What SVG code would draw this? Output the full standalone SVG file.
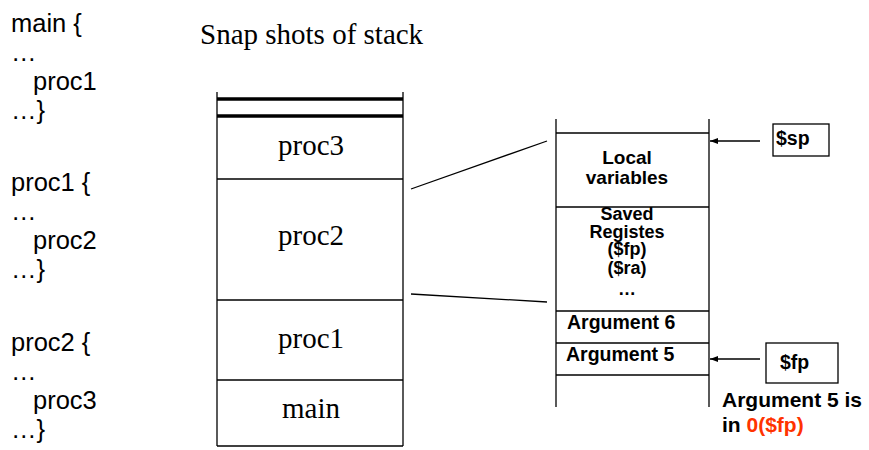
<svg xmlns="http://www.w3.org/2000/svg" width="869" height="450" viewBox="0 0 869 450">
<defs>
<style>
.code{font-family:"Liberation Sans",Arial,sans-serif;font-size:25.5px;fill:#000}
.serif{font-family:"Liberation Serif","Times New Roman",serif;font-size:29px;fill:#000}
.bold{font-family:"Liberation Sans",Arial,sans-serif;font-weight:bold;font-size:19.5px;fill:#000}
.tight{font-family:"Liberation Sans",Arial,sans-serif;font-weight:bold;font-size:18px;fill:#000}
.ln{stroke:#000;stroke-width:1.3;fill:none}
.thick{stroke:#000;stroke-width:3.5;fill:none}
</style>
<marker id="ah" markerWidth="8" markerHeight="6" refX="8" refY="3" orient="auto" markerUnits="userSpaceOnUse">
<path d="M0,0 L8,3 L0,6 z" fill="#000"/>
</marker>
</defs>
<rect width="869" height="450" fill="#fff"/>
<g id="code">
<text class="code" x="11" y="32">main {</text>
<text class="code" x="11" y="61">…</text>
<text class="code" x="33" y="90">proc1</text>
<text class="code" x="11" y="119">…}</text>
<text class="code" x="11" y="191">proc1 {</text>
<text class="code" x="11" y="220">…</text>
<text class="code" x="33" y="249">proc2</text>
<text class="code" x="11" y="278">…}</text>
<text class="code" x="11" y="351">proc2 {</text>
<text class="code" x="11" y="380">…</text>
<text class="code" x="33" y="409">proc3</text>
<text class="code" x="11" y="438">…}</text>
</g>
<g id="title">
<text class="serif" x="200" y="44">Snap shots of stack</text>
</g>
<g id="stack-left">
<line class="ln" x1="217" y1="92" x2="217" y2="446"/>
<line class="ln" x1="403" y1="92" x2="403" y2="446"/>
<line class="thick" x1="217" y1="99" x2="403" y2="99"/>
<line class="thick" x1="217" y1="116" x2="403" y2="116"/>
<line class="ln" x1="217" y1="179" x2="403" y2="179"/>
<line class="ln" x1="217" y1="300" x2="403" y2="300"/>
<line class="ln" x1="217" y1="380" x2="403" y2="380"/>
<line class="ln" x1="217" y1="446" x2="403" y2="446"/>
</g>
<g id="proc3"><text class="serif" x="311" y="155" text-anchor="middle">proc3</text></g>
<g id="proc2"><text class="serif" x="311" y="245" text-anchor="middle">proc2</text></g>
<g id="proc1"><text class="serif" x="311" y="348" text-anchor="middle">proc1</text></g>
<g id="main"><text class="serif" x="311" y="418" text-anchor="middle">main</text></g>
<g id="stack-right">
<line class="ln" x1="556" y1="119" x2="556" y2="407"/>
<line class="ln" x1="709" y1="119" x2="709" y2="407"/>
<line class="ln" x1="556" y1="133" x2="709" y2="133"/>
<line class="ln" x1="556" y1="207" x2="709" y2="207"/>
<line class="ln" x1="556" y1="311" x2="709" y2="311"/>
<line class="ln" x1="556" y1="343" x2="709" y2="343"/>
<line class="ln" x1="556" y1="375" x2="709" y2="375"/>
</g>
<g id="local-vars">
<text class="bold" x="627" y="164" text-anchor="middle" style="font-size:19px">Local</text>
<text class="bold" x="627" y="184" text-anchor="middle" style="font-size:19px">variables</text>
</g>
<g id="saved-regs">
<text class="tight" x="627" y="220" text-anchor="middle">Saved</text>
<text class="tight" x="627" y="238" text-anchor="middle">Registes</text>
<text class="tight" x="627" y="255" text-anchor="middle">($fp)</text>
<text class="tight" x="627" y="274" text-anchor="middle">($ra)</text>
<text class="tight" x="627" y="295" text-anchor="middle">…</text>
</g>
<g id="arg6"><text class="bold" x="567" y="329">Argument 6</text></g>
<g id="arg5"><text class="bold" x="566" y="361">Argument 5</text></g>
<g id="sp-box">
<rect x="773" y="124" width="56" height="32" fill="none" stroke="#000" stroke-width="1.3"/>
<text class="bold" x="776" y="145">$sp</text>
</g>
<g id="fp-box">
<rect x="766" y="343" width="72" height="40" fill="none" stroke="#000" stroke-width="1.3"/>
<text class="bold" x="780" y="369">$fp</text>
</g>
<g id="note">
<text class="bold" x="722" y="407" style="font-size:21px">Argument 5 is</text>
<text class="bold" x="722" y="432" style="font-size:21px">in <tspan fill="#FF3300">0($fp)</tspan></text>
</g>
<g id="connectors">
<line class="ln" x1="411" y1="189" x2="547" y2="141"/>
<line class="ln" x1="411" y1="294" x2="547" y2="302"/>
<line class="ln" x1="760" y1="141" x2="710" y2="141" marker-end="url(#ah)"/>
<line class="ln" x1="760" y1="359" x2="710" y2="359" marker-end="url(#ah)"/>
</g>
</svg>
